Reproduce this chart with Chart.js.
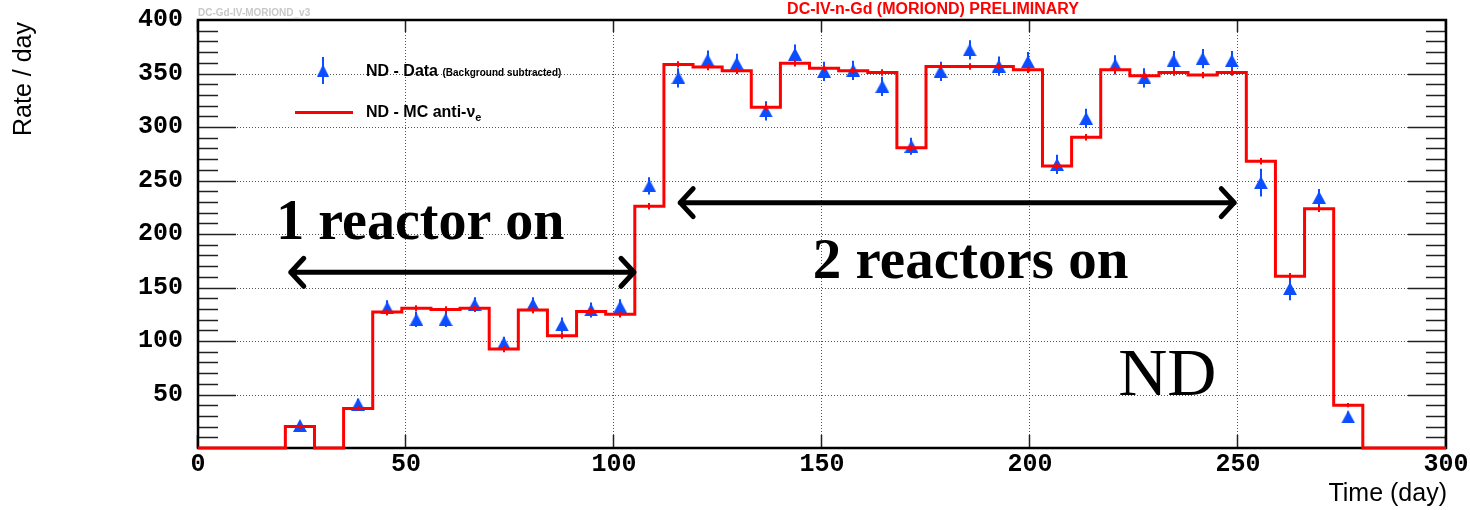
<!DOCTYPE html>
<html>
<head>
<meta charset="utf-8">
<title>ND rate vs time</title>
<script src="https://cdn.jsdelivr.net/npm/chart.js@4.4.1/dist/chart.umd.min.js"></script>
<style>
  html, body { margin: 0; padding: 0; background: #fff; }
  canvas { display: block; }
</style>
</head>
<body>
<canvas id="rateChart" width="1470" height="510"></canvas>
<script>
// Weekly bins: lower edge of each bin (day)
const weekStart = [21, 28, 35, 42, 49, 56, 63, 70, 77, 84, 91, 98, 105, 112, 119, 126, 133, 140, 147,
                   154, 161, 168, 175, 182, 189, 196, 203, 210, 217, 224, 231, 238, 245, 252, 259, 266, 273];
const binWidth = 7;
const histEnd = 280;

// MC prediction (anti-nu_e) per bin
const mcRate = [20, 0, 37, 127, 130.5, 129.5, 130.5, 92.5, 129, 105, 127.5, 125, 226, 358.5, 356, 352.5,
                318.5, 359.5, 355, 352.5, 351, 280.5, 356.5, 356.5, 356.5, 353.5, 263.5, 290.5, 353.5,
                348, 351, 348.5, 351, 268, 160.5, 223.5, 40];
const mcErr = [2, 0, 2, 3, 3, 3, 3, 3, 3, 3, 3, 3, 3, 3, 3, 3, 3, 3, 3, 3, 3, 3, 3, 3, 3, 3, 3, 3, 3,
               3, 3, 3, 3, 3, 3, 3, 2];

// Measured rate, background subtracted (null = no entry)
const dataRate = [21, null, 41, 131, 120, 120, 134, 98, 134, 115, 129, 132, 245, 346, 362.5, 359.5,
                  315, 368, 352, 353, 338, 282, 352, 372, 357, 361, 265, 308, 358, 346, 362, 364, 362,
                  248, 149, 234, 29];
const dataErr = [4, null, 5, 7, 7, 7, 7, 6, 7, 7, 7, 7, 8, 9, 9, 9, 9, 9, 9, 9, 9, 8, 9, 9, 9, 9, 9, 9,
                 9, 9, 9, 9, 9, 13, 11, 8, 5];

// Axis ticks
const xTickValues = [0, 50, 100, 150, 200, 250, 300];
const yTickValues = [50, 100, 150, 200, 250, 300, 350, 400];

const RED = '#ff0000';
const BLUE = '#0b4dff';

const histPoints = [{x: 0, y: 0}]
  .concat(weekStart.map((d, i) => ({x: d, y: mcRate[i]})))
  .concat([{x: histEnd, y: 0}, {x: 300, y: 0}]);

const dataPoints = [];
weekStart.forEach((d, i) => {
  if (dataRate[i] !== null) dataPoints.push({x: d + binWidth / 2, y: dataRate[i], err: dataErr[i]});
});

// filled up-triangle marker, centred on its bounding box
function makeTriangle(w, h) {
  const c = document.createElement('canvas');
  c.width = w; c.height = h;
  const g = c.getContext('2d');
  g.fillStyle = BLUE;
  g.beginPath();
  g.moveTo(w / 2, 0);
  g.lineTo(w, h);
  g.lineTo(0, h);
  g.closePath();
  g.fill();
  return c;
}
const triMarker = makeTriangle(14, 13);

// dotted grid, frame and tick marks
const framePlugin = {
  id: 'frame',
  beforeDatasetsDraw(chart) {
    const {ctx, chartArea: a, scales: {x, y}} = chart;
    ctx.save();
    ctx.strokeStyle = '#555';
    ctx.lineWidth = 1;
    ctx.setLineDash([1, 2]);
    ctx.beginPath();
    xTickValues.forEach(v => {
      if (v === 0) return;
      const px = Math.round(x.getPixelForValue(v)) - 0.5;
      ctx.moveTo(px, a.top);
      ctx.lineTo(px, a.bottom);
    });
    yTickValues.forEach(v => {
      const py = Math.round(y.getPixelForValue(v)) + 0.5;
      ctx.moveTo(a.left, py);
      ctx.lineTo(a.right, py);
    });
    ctx.stroke();
    ctx.setLineDash([]);

    ctx.strokeStyle = '#222';
    ctx.lineWidth = 1.5;
    ctx.beginPath();
    for (let v = 10; v < 400; v += 10) {
      const py = Math.round(y.getPixelForValue(v)) + 0.5;
      const len = v % 50 === 0 ? 38 : 20;
      ctx.moveTo(a.left, py); ctx.lineTo(a.left + len, py);
      ctx.moveTo(a.right, py); ctx.lineTo(a.right - len, py);
    }
    xTickValues.forEach(v => {
      const px = Math.round(x.getPixelForValue(v)) - 0.5;
      ctx.moveTo(px, a.bottom); ctx.lineTo(px, a.bottom - 13);
      ctx.moveTo(px, a.top); ctx.lineTo(px, a.top + 12);
    });
    ctx.stroke();

    ctx.strokeStyle = '#000';
    ctx.lineWidth = 2.5;
    ctx.strokeRect(a.left, a.top, a.right - a.left, a.bottom - a.top);
    ctx.restore();
  }
};

// error bars: data drawn under markers, MC ticks over the histogram
const errorBarPlugin = {
  id: 'errorBars',
  beforeDatasetDraw(chart, args) {
    if (args.index !== 1) return;
    const {ctx, scales: {x, y}} = chart;
    ctx.save();
    ctx.strokeStyle = BLUE;
    ctx.lineWidth = 2;
    ctx.beginPath();
    dataPoints.forEach(p => {
      const px = Math.round(x.getPixelForValue(p.x));
      ctx.moveTo(px, y.getPixelForValue(p.y + p.err));
      ctx.lineTo(px, y.getPixelForValue(p.y - p.err));
    });
    ctx.stroke();
    ctx.restore();
  },
  afterDatasetDraw(chart, args) {
    if (args.index !== 0) return;
    const {ctx, scales: {x, y}} = chart;
    ctx.save();
    ctx.strokeStyle = RED;
    ctx.lineWidth = 2;
    ctx.beginPath();
    weekStart.forEach((d, i) => {
      if (!mcErr[i]) return;
      const px = Math.round(x.getPixelForValue(d + binWidth / 2));
      ctx.moveTo(px, y.getPixelForValue(mcRate[i] + mcErr[i]));
      ctx.lineTo(px, y.getPixelForValue(mcRate[i] - mcErr[i]));
    });
    ctx.stroke();
    ctx.restore();
  }
};

// arrows, labels, legend and titles
const annotations = {
  arrows: [
    {from: 22.3, to: 104.8, y: 164.2},
    {from: 115.9, to: 249.1, y: 229.3}
  ],
  labels: [
    {text: '1 reactor on', x: 18.8, y: 195.5, font: 'bold 56px "Liberation Serif"'},
    {text: '2 reactors on', x: 147.8, y: 158.6, font: 'bold 57px "Liberation Serif"'},
    {text: 'ND', x: 221.2, y: 49.5, font: '68px "Liberation Serif"'}
  ]
};

const overlayPlugin = {
  id: 'overlay',
  afterDraw(chart) {
    const {ctx, chartArea: a, scales: {x, y}} = chart;
    ctx.save();

    // double-headed arrows
    ctx.strokeStyle = '#000';
    ctx.lineWidth = 5;
    ctx.lineCap = 'round';
    ctx.lineJoin = 'round';
    annotations.arrows.forEach(ar => {
      const x1 = x.getPixelForValue(ar.from);
      const x2 = x.getPixelForValue(ar.to);
      const py = y.getPixelForValue(ar.y);
      ctx.beginPath();
      ctx.moveTo(x1, py); ctx.lineTo(x2, py);
      ctx.moveTo(x1 + 13, py - 14); ctx.lineTo(x1, py); ctx.lineTo(x1 + 13, py + 14);
      ctx.moveTo(x2 - 13, py - 14); ctx.lineTo(x2, py); ctx.lineTo(x2 - 13, py + 14);
      ctx.stroke();
    });

    ctx.fillStyle = '#000';
    ctx.textAlign = 'left';
    ctx.textBaseline = 'alphabetic';
    annotations.labels.forEach(l => {
      ctx.font = l.font;
      ctx.fillText(l.text, x.getPixelForValue(l.x), y.getPixelForValue(l.y));
    });

    // legend
    const lx = a.left;
    ctx.strokeStyle = BLUE;
    ctx.lineWidth = 2;
    ctx.lineCap = 'butt';
    ctx.beginPath();
    ctx.moveTo(lx + 125, 57); ctx.lineTo(lx + 125, 84);
    ctx.stroke();
    ctx.drawImage(triMarker, lx + 125 - 6, 70.5 - 6, 12, 12);

    ctx.fillStyle = '#000';
    ctx.font = 'bold 16px "Liberation Sans"';
    ctx.fillText('ND - Data', lx + 168, 75.5);
    const w1 = ctx.measureText('ND - Data ').width;
    ctx.font = 'bold 10px "Liberation Sans"';
    ctx.fillText('(Background subtracted)', lx + 168 + w1, 75.5);

    ctx.strokeStyle = RED;
    ctx.lineWidth = 3;
    ctx.beginPath();
    ctx.moveTo(lx + 97, 112.5); ctx.lineTo(lx + 155, 112.5);
    ctx.stroke();

    ctx.font = 'bold 16px "Liberation Sans"';
    ctx.fillText('ND - MC anti-\u03bd', lx + 168, 117);
    const w2 = ctx.measureText('ND - MC anti-\u03bd').width;
    ctx.font = 'bold 11px "Liberation Sans"';
    ctx.fillText('e', lx + 168 + w2, 121);

    // titles
    ctx.fillStyle = RED;
    ctx.font = 'bold 16px "Liberation Sans"';
    ctx.textAlign = 'center';
    ctx.fillText('DC-IV-n-Gd (MORIOND) PRELIMINARY', 933, 14);

    ctx.fillStyle = '#c8c8c8';
    ctx.font = 'bold 10px "Liberation Sans"';
    ctx.textAlign = 'left';
    ctx.fillText('DC-Gd-IV-MORIOND_v3', a.left, 16);

    ctx.fillStyle = '#000';
    ctx.font = '25px "Liberation Sans"';
    ctx.textAlign = 'right';
    ctx.fillText('Time (day)', 1447, 501);

    ctx.translate(31, 22);
    ctx.rotate(-Math.PI / 2);
    ctx.font = '25px "Liberation Sans"';
    ctx.fillText('Rate / day', 0, 0);
    ctx.restore();
  }
};

const tickFont = {family: '"Liberation Mono"', size: 25, weight: 'bold'};

new Chart(document.getElementById('rateChart'), {
  type: 'scatter',
  data: {
    datasets: [
      {
        label: 'ND - MC anti-nu_e',
        data: histPoints,
        showLine: true,
        stepped: true,
        borderColor: RED,
        borderWidth: 3,
        pointRadius: 0,
        clip: false
      },
      {
        label: 'ND - Data (Background subtracted)',
        data: dataPoints,
        pointStyle: triMarker,
        pointRadius: 7,
        pointBackgroundColor: BLUE,
        pointBorderColor: BLUE
      }
    ]
  },
  options: {
    responsive: false,
    devicePixelRatio: 1,
    animation: false,
    layout: {padding: {top: 20, right: 24, left: 0, bottom: 0}},
    plugins: {legend: {display: false}, tooltip: {enabled: false}},
    scales: {
      x: {
        type: 'linear',
        min: 0,
        max: 300,
        grid: {display: false, drawTicks: false},
        border: {display: false},
        afterBuildTicks: s => { s.ticks = xTickValues.map(v => ({value: v})); },
        afterFit: s => { s.height = 62; s.paddingLeft = 0; s.paddingRight = 0; },
        ticks: {font: tickFont, color: '#000', padding: 2, maxRotation: 0, autoSkip: false}
      },
      y: {
        type: 'linear',
        min: 0,
        max: 400,
        grid: {display: false, drawTicks: false},
        border: {display: false},
        afterBuildTicks: s => { s.ticks = yTickValues.map(v => ({value: v})); },
        afterFit: s => { s.width = 198; s.paddingTop = 0; s.paddingBottom = 0; },
        ticks: {font: tickFont, color: '#000', padding: 15, autoSkip: false}
      }
    }
  },
  plugins: [framePlugin, errorBarPlugin, overlayPlugin]
});
</script>
</body>
</html>
